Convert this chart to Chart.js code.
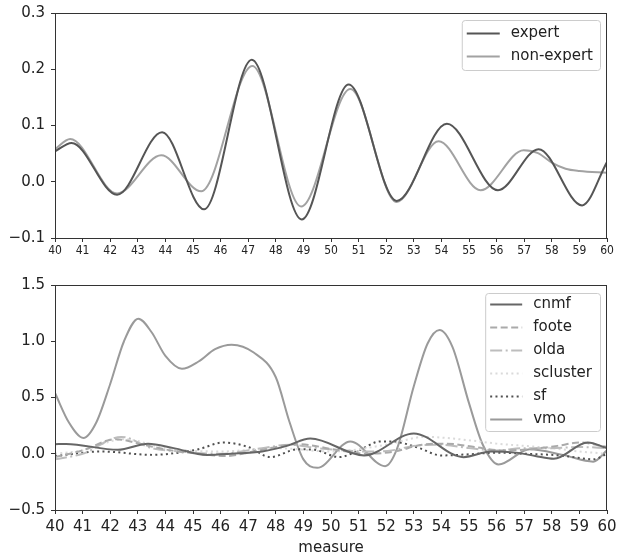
<!DOCTYPE html>
<html>
<head>
<meta charset="utf-8">
<script src="https://cdn.jsdelivr.net/npm/chart.js@4"></script>
<style>
  html, body { margin: 0; padding: 0; background: #fff; }
  #wrap { position: relative; width: 617px; height: 560px; }
  canvas { position: absolute; left: 0; }
</style>
</head>
<body>
<div id="wrap">
  <canvas id="top-chart" width="617" height="260" style="top:0"></canvas>
  <canvas id="bottom-chart" width="617" height="300" style="top:260px"></canvas>
</div>
<script>
// top panel: expert vs non-expert (peaks and troughs)
const expertX = [40, 40.6, 42.25, 43.88, 45.4, 47.13, 48.94, 50.64, 52.38, 54.2, 56.05, 57.52, 59.1, 60];
const expertY = [0.054, 0.069, -0.023, 0.088, -0.049, 0.217, -0.067, 0.173, -0.034, 0.103, -0.015, 0.058, -0.042, 0.035];
const nonExpertX = [40, 40.55, 42.25, 43.85, 45.3, 47.15, 48.92, 50.7, 52.38, 53.9, 55.42, 56.98, 57.5, 58.0, 58.5, 59.0, 60];
const nonExpertY = [0.058, 0.076, -0.021, 0.047, -0.017, 0.206, -0.044, 0.165, -0.036, 0.072, -0.015, 0.056, 0.051, 0.034, 0.023, 0.019, 0.016];

// bottom panel: algorithms
const cnmfX = [40, 40.4, 42.28, 43.37, 44.3, 45.5, 46.4, 47.5, 48.4, 49.25, 51.2, 53.0, 54.8, 55.8, 56.7, 57.4, 58.07, 59.3, 60];
const cnmfY = [0.085, 0.087, 0.035, 0.09, 0.05, -0.01, 0.0, 0.02, 0.07, 0.135, -0.015, 0.18, -0.03, 0.02, 0.01, -0.02, -0.045, 0.1, 0.05];
const footeX = [40, 41, 42.2, 43.2, 44.2, 45.2, 46.2, 47.2, 48.8, 50.3, 51.3, 52.3, 53.3, 54.2, 55.2, 56.2, 57.2, 58.2, 59.0, 60];
const footeY = [-0.03, 0.03, 0.13, 0.08, 0.03, 0.0, -0.02, 0.02, 0.085, 0.03, 0.0, 0.02, 0.08, 0.09, 0.06, 0.03, 0.04, 0.07, 0.1, 0.06];
const oldaX = [40, 41, 42.4, 43.5, 44.5, 46, 47.5, 48.5, 49.5, 50.5, 51.3, 52.2, 53, 54, 55, 56, 57, 58, 59, 60];
const oldaY = [-0.05, 0.0, 0.15, 0.05, 0.02, 0.0, 0.05, 0.08, 0.05, 0.03, 0.02, 0.03, 0.07, 0.08, 0.05, 0.03, 0.05, 0.05, 0.06, 0.05];
const sclusterX = [40, 41, 42.5, 44, 46, 48, 50, 52, 53.4, 55, 56, 57, 58, 59, 60];
const sclusterY = [0.0, 0.03, 0.13, 0.05, 0.02, 0.05, 0.02, 0.08, 0.15, 0.12, 0.09, 0.07, 0.05, 0.02, 0.0];
const sfX = [40, 41.7, 43.5, 44.5, 45.2, 46.1, 47.0, 47.8, 48.8, 49.4, 50.3, 51.0, 51.8, 52.5, 53.2, 54.0, 55.0, 56.0, 57.0, 58.0, 58.8, 59.5, 60];
const sfY = [-0.02, 0.02, -0.01, 0.01, 0.04, 0.10, 0.06, -0.03, 0.04, 0.035, -0.03, 0.03, 0.11, 0.1, 0.05, -0.015, -0.005, 0.01, 0.0, -0.01, -0.03, -0.05, 0.0];
const vmoX = [40, 40.5, 41.03, 41.5, 42, 42.5, 43.02, 43.5, 44, 44.6, 45.2, 45.8, 46.4, 47.2, 48, 48.5, 49, 49.5, 50.7, 51.96, 52.4, 53.0, 53.5, 53.93, 54.4, 55.0, 55.5, 56.07, 57.2, 58.4, 59.5, 60];
const vmoY = [0.54, 0.28, 0.14, 0.28, 0.62, 1.0, 1.2, 1.08, 0.87, 0.755, 0.82, 0.93, 0.97, 0.9, 0.68, 0.28, -0.05, -0.125, 0.11, -0.11, 0.05, 0.6, 0.98, 1.1, 0.95, 0.45, 0.08, -0.095, 0.04, -0.01, -0.07, 0.03];

const TEXT = '#222';
const SPINE = '#333';
const FONT = "'DejaVu Sans', sans-serif";

const pts = (xs, ys) => xs.map((x, i) => ({ x, y: ys[i] }));

function line(label, xs, ys, color, dash) {
  return {
    label, data: pts(xs, ys),
    borderColor: color, backgroundColor: color,
    borderWidth: 2, borderDash: dash || [],
    pointRadius: 0, fill: false,
    cubicInterpolationMode: 'monotone',
  };
}

const fmt = (v) => {
  const r = Math.round(v * 10) / 10;
  if (r === 0) return '0.0';
  return (r < 0 ? '\u2212' : '') + Math.abs(r).toFixed(1);
};

// box round the plot + legend drawn inside the axes
const framePlugin = {
  id: 'frame',
  afterDatasetsDraw(chart) {
    const { ctx, chartArea: a } = chart;
    ctx.save();
    ctx.strokeStyle = SPINE;
    ctx.lineWidth = 1;
    ctx.strokeRect(a.left + 0.5, a.top + 0.5, a.right - a.left - 1, a.bottom - a.top);
    ctx.restore();

    const lg = chart.options.plugins.boxLegend;
    if (!lg) return;
    ctx.save();
    ctx.font = '15px ' + FONT;
    const ds = chart.data.datasets;
    const maxW = Math.max(...ds.map((d) => ctx.measureText(d.label).width));
    const w = lg.padL + lg.lineLen + lg.gap + maxW + lg.padR;
    const h = ds.length * lg.rowH + lg.padV * 2;
    const x0 = a.right - lg.right - w;
    const y0 = a.top + lg.top;
    ctx.fillStyle = 'rgba(255,255,255,0.85)';
    ctx.strokeStyle = '#cccccc';
    ctx.lineWidth = 1;
    ctx.beginPath();
    ctx.roundRect(x0 + 0.5, y0 + 0.5, w, h, 3);
    ctx.fill();
    ctx.stroke();
    ds.forEach((d, i) => {
      const cy = y0 + lg.padV + lg.rowH * i + lg.rowH / 2;
      ctx.strokeStyle = d.borderColor;
      ctx.lineWidth = 2;
      ctx.setLineDash(d.borderDash || []);
      ctx.beginPath();
      ctx.moveTo(x0 + lg.padL, cy);
      ctx.lineTo(x0 + lg.padL + lg.lineLen, cy);
      ctx.stroke();
      ctx.setLineDash([]);
      ctx.fillStyle = TEXT;
      ctx.textBaseline = 'middle';
      ctx.fillText(d.label, x0 + lg.padL + lg.lineLen + lg.gap, cy);
    });
    ctx.restore();
  },
};

function makeChart(canvas, datasets, o) {
  return new Chart(canvas, {
    type: 'line',
    data: { datasets },
    plugins: [framePlugin],
    options: {
      responsive: false,
      animation: false,
      events: [],
      layout: { padding: { top: o.padTop, right: 10, left: 0, bottom: 0 } },
      plugins: { legend: { display: false }, tooltip: { enabled: false }, boxLegend: o.legend },
      scales: {
        x: {
          type: 'linear', min: 40, max: 60,
          border: { display: false },
          grid: { drawOnChartArea: false, drawTicks: true, tickLength: 4, color: SPINE },
          ticks: { stepSize: 1, color: TEXT, padding: o.xPad, maxRotation: 0, autoSkip: false, font: o.xFont },
          title: o.xTitle,
          afterFit: (s) => { s.height = o.xHeight; s.paddingLeft = 0; s.paddingRight = 0; },
        },
        y: {
          min: o.yMin, max: o.yMax,
          border: { display: false },
          grid: { drawOnChartArea: false, drawTicks: true, tickLength: 4, color: SPINE },
          ticks: { stepSize: o.yStep, color: TEXT, padding: 6, font: { family: FONT, size: 15 }, callback: fmt },
          afterFit: (s) => { s.width = 55; s.paddingTop = 0; s.paddingBottom = 0; },
        },
      },
    },
  });
}

makeChart(document.getElementById('top-chart'), [
  line('expert', expertX, expertY, '#555555'),
  line('non-expert', nonExpertX, nonExpertY, '#a2a2a2'),
], {
  padTop: 13, xHeight: 22, xPad: 2,
  xFont: { family: "'Liberation Sans Narrow', 'DejaVu Sans Condensed', 'DejaVu Sans'", size: 12 },
  xTitle: { display: false },
  yMin: -0.1, yMax: 0.3, yStep: 0.1,
  legend: { right: 7, top: 7, padL: 5, lineLen: 33, gap: 11, padR: 7, rowH: 23, padV: 2 },
});

makeChart(document.getElementById('bottom-chart'), [
  line('cnmf', cnmfX, cnmfY, '#666666'),
  line('foote', footeX, footeY, '#aaaaaa', [7, 3.5]),
  line('olda', oldaX, oldaY, '#bdbdbd', [12, 3.5, 2, 3.5]),
  line('scluster', sclusterX, sclusterY, '#dadada', [2, 3.3]),
  line('sf', sfX, sfY, '#505050', [2, 3.3]),
  line('vmo', vmoX, vmoY, '#9a9a9a'),
], {
  padTop: 25, xHeight: 50, xPad: 4,
  xFont: { family: FONT, size: 15 },
  xTitle: { display: true, text: 'measure', color: TEXT, font: { family: FONT, size: 15 }, padding: { top: 0, bottom: 3 } },
  yMin: -0.5, yMax: 1.5, yStep: 0.5,
  legend: { right: 7, top: 8, padL: 5, lineLen: 32, gap: 11, padR: 8, rowH: 23, padV: 0 },
});
</script>
</body>
</html>
